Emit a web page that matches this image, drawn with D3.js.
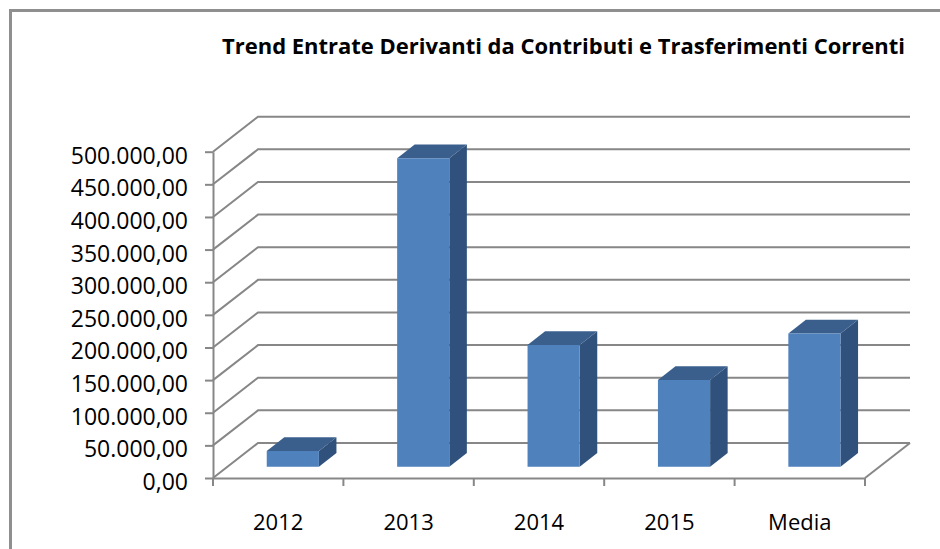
<!DOCTYPE html>
<html lang="it">
<head>
<meta charset="UTF-8" />
<script src="https://d3js.org/d3.v7.min.js"></script>
<style type="text/css">
  body { margin: 0; background: #fff; }
  svg { display: block; }
  .y_axis text, .x_axis text { font-family: "Open Sans", sans-serif; fill: #000; }
  .y_axis text { font-size: 23px; }
  .x_axis text { font-size: 22px; }
</style>
<title>Trend Entrate</title>
</head>
<body>
<script type="text/javascript">
  // Data
  var categories = ["2012", "2013", "2014", "2015", "Media"];
  var values = [24000, 472500, 186500, 132800, 204000];
  var yTicks = [0, 50000, 100000, 150000, 200000, 250000, 300000, 350000, 400000, 450000, 500000];
  var title = "Trend Entrate Derivanti da Contributi e Trasferimenti Correnti";

  var W = 940, H = 549;
  // plot front plane and 3d depth offset
  var x0 = 213, x1 = 865, yTop = 151.7, yBottom = 478;
  var depth = {dx: 45, dy: -35};
  var barFront = 0.325, barBack = 0.715;

  var gridColor = "#878787";

  var it = d3.formatLocale({decimal: ",", thousands: ".", grouping: [3], currency: ["€", ""]});
  var fmt = it.format(",.2f");

  var xScale = d3.scaleBand()
      .domain(categories)
      .range([x0, x1])
      .paddingInner(0.6)
      .paddingOuter(0.3);

  var yScale = d3.scaleLinear()
      .domain([0, 500000])
      .range([yBottom, yTop]);

  var svg = d3.select("body").append("svg")
      .attr("width", W)
      .attr("height", H);

  // outer frame (only left and top visible)
  svg.append("path")
     .attr("d", "M10.5," + (H + 5) + "V10.5H" + (W + 5))
     .attr("fill", "none")
     .attr("stroke", "#8f8f8f")
     .attr("stroke-width", 3);

  // title
  svg.append("text")
     .attr("x", 222)
     .attr("y", 54)
     .attr("textLength", 683)
     .attr("lengthAdjust", "spacingAndGlyphs")
     .style("font-family", "'Open Sans', sans-serif")
     .style("font-weight", "bold")
     .style("font-size", "20.5px")
     .text(title);

  var grid = svg.append("g").attr("class", "grid")
      .attr("fill", "none")
      .attr("stroke", gridColor)
      .attr("stroke-width", 2);

  // side wall diagonals + back wall lines
  yTicks.forEach(function(v) {
    var y = yScale(v);
    grid.append("path")
        .attr("d", "M" + x0 + "," + y + "L" + (x0 + depth.dx) + "," + (y + depth.dy) +
                   "H" + (x1 + depth.dx));
  });

  // floor right edge
  grid.append("path")
      .attr("d", "M" + x1 + "," + yBottom + "L" + (x1 + depth.dx) + "," + (yBottom + depth.dy));

  // bars
  function pt(x, y, f) {
    return (x + f * depth.dx) + "," + (y + f * depth.dy);
  }

  var bars = svg.selectAll(".bar")
      .data(categories.map(function(c, i) { return {cat: c, val: values[i]}; }))
      .enter()
      .append("g")
      .attr("class", "bar");

  bars.each(function(d) {
    var g = d3.select(this);
    var xl = xScale(d.cat), xr = xl + xScale.bandwidth();
    var yt = yScale(d.val), yb = yScale(0);

    // side face
    g.append("path")
     .attr("d", "M" + pt(xr, yt, barFront) + "L" + pt(xr, yt, barBack) +
                "L" + pt(xr, yb, barBack) + "L" + pt(xr, yb, barFront) + "Z")
     .attr("fill", "#30517b");
    // top face
    g.append("path")
     .attr("d", "M" + pt(xl, yt, barFront) + "L" + pt(xl, yt, barBack) +
                "L" + pt(xr, yt, barBack) + "L" + pt(xr, yt, barFront) + "Z")
     .attr("fill", "#3a5f8c");
    // front face
    g.append("path")
     .attr("d", "M" + pt(xl, yt, barFront) + "L" + pt(xr, yt, barFront) +
                "L" + pt(xr, yb, barFront) + "L" + pt(xl, yb, barFront) + "Z")
     .attr("fill", "#4f81bd");
  });

  // y axis
  var yAxis = svg.append("g")
     .attr("class", "y_axis")
     .attr("transform", "translate(" + x0 + ",0)")
     .call(d3.axisLeft(yScale)
              .tickValues(yTicks)
              .tickFormat(fmt)
              .tickSize(8)
              .tickSizeOuter(0)
              .tickPadding(17));
  yAxis.select(".domain").attr("stroke", gridColor).attr("stroke-width", 2);
  yAxis.selectAll(".tick line").attr("stroke", gridColor).attr("stroke-width", 2);
  yAxis.selectAll(".tick text").attr("dy", "0.5em");

  // x axis
  var xAxis = svg.append("g")
     .attr("class", "x_axis")
     .attr("transform", "translate(0," + yBottom + ")")
     .call(d3.axisBottom(xScale).tickSize(0).tickSizeOuter(0));
  xAxis.select(".domain").attr("stroke", gridColor).attr("stroke-width", 2);
  xAxis.selectAll(".tick text").attr("y", 52).attr("dy", 0);

  // category boundary ticks
  d3.range(categories.length + 1).forEach(function(i) {
    var x = x0 + i * xScale.step();
    xAxis.append("line")
         .attr("x1", x).attr("x2", x)
         .attr("y1", 0).attr("y2", 8)
         .attr("stroke", gridColor)
         .attr("stroke-width", 2);
  });
</script>
</body>
</html>
